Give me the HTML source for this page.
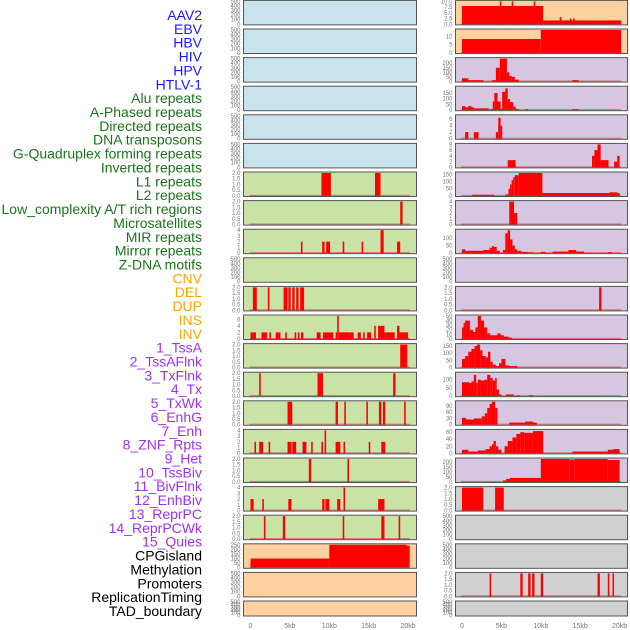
<!DOCTYPE html>
<html><head><meta charset="utf-8"><style>
html,body{margin:0;padding:0;background:#fff;}
svg{display:block;font-family:"Liberation Sans",sans-serif;}
</style></head><body>
<svg id="chart" width="630" height="630" viewBox="0 0 630 630" xmlns="http://www.w3.org/2000/svg"></svg>
<script>
const labels = ["AAV2","EBV","HBV","HIV","HPV","HTLV-1","Alu repeats","A-Phased repeats","Directed repeats","DNA transposons","G-Quadruplex forming repeats","Inverted repeats","L1 repeats","L2 repeats","Low_complexity A/T rich regions","Microsatellites","MIR repeats","Mirror repeats","Z-DNA motifs","CNV","DEL","DUP","INS","INV","1_TssA","2_TssAFlnk","3_TxFlnk","4_Tx","5_TxWk","6_EnhG","7_Enh","8_ZNF_Rpts","9_Het","10_TssBiv","11_BivFlnk","12_EnhBiv","13_ReprPC","14_ReprPCWk","15_Quies","CPGisland","Methylation","Promoters","ReplicationTiming","TAD_boundary"];
const labelColors = ["#1a1aff","#1a1aff","#1a1aff","#1a1aff","#1a1aff","#1a1aff","#1a741a","#1a741a","#1a741a","#1a741a","#1a741a","#1a741a","#1a741a","#1a741a","#1a741a","#1a741a","#1a741a","#1a741a","#1a741a","#ffa500","#ffa500","#ffa500","#ffa500","#ffa500","#a030f0","#a030f0","#a030f0","#a030f0","#a030f0","#a030f0","#a030f0","#a030f0","#a030f0","#a030f0","#a030f0","#a030f0","#a030f0","#a030f0","#a030f0","#000","#000","#000","#000","#000"];
const xTickValues = [0,5,10,15,20];
const xTickLabels = ["0","5kb","10kb","15kb","20kb"];
const T500 = ["0","100","200","300","400","500"];
const T2 = ["0.0","0.5","1.0","1.5","2.0"];
const T4 = ["0","1","2","3","4"];
// left column: ymax, ticks, bars [startKb,endKb,value]
const leftYMax = [500,500,500,500,500,500,2,2,4,500,2,7,2,2,2,4,2,4,2,250,500,500];
const leftTicks = [T500,T500,T500,T500,T500,T500,T2,T2,T4,T500,T2,["0","2","4","6"],T2,T2,T2,T4,T2,T4,T2,["0","50","100","150","200","250"],T500,T500];
const leftBars = [
 [],[],[],[],[],[],
 [[9.0,10.2,2],[15.8,16.5,2]],
 [[19.0,19.3,2]],
 [[6.4,6.6,2],[9.1,9.4,2],[9.6,10.1,2],[11.7,11.9,2],[14.1,14.3,2],[16.5,16.9,4],[18.6,19.0,2]],
 [],
 [[0.3,0.8,2],[2.2,2.4,2],[4.2,4.7,2],[4.8,5.1,2],[5.3,5.6,2],[5.8,6.1,2],[6.3,6.8,2]],
 [[0,0.7,2],[1.4,2.1,2],[2.4,2.6,2],[3.2,3.8,2],[4.4,4.6,2],[5.6,5.8,2],[6.0,6.2,2],[6.4,6.7,2],[8.4,8.9,2],[9.2,10.5,2],[10.8,11.0,2],[11.0,11.2,7],[11.2,12.6,2],[12.6,13.1,2],[13.6,14.0,2],[14.3,14.5,2],[14.8,15.3,2],[15.7,15.9,4],[16.2,16.5,4],[16.5,17.0,4],[17.0,17.3,2],[17.3,18.3,2],[18.6,18.9,4],[18.9,20.0,2]],
 [[19.0,19.9,2]],
 [[1.1,1.3,2],[8.5,9.2,2],[18.1,18.4,2]],
 [[4.7,5.3,2],[10.8,11.1,2],[11.9,12.1,2],[14.7,14.9,2],[16.3,16.6,2],[16.8,17.1,2],[19.5,19.7,2]],
 [[0.5,0.7,2],[1.1,1.6,2],[2.3,2.5,2],[4.7,5.2,2],[5.3,5.8,2],[6.6,7.1,2],[7.7,7.9,2],[9.0,9.2,2],[9.4,9.6,4],[10.8,11.4,2],[11.8,12.0,2],[15.0,15.2,2],[16.6,17.1,2]],
 [[7.4,7.7,2],[12.3,12.5,2]],
 [[0,0.4,2],[1.5,1.7,2],[4.8,5.2,2],[9.1,9.4,2],[9.5,10.0,2],[11.0,11.4,2],[11.8,12.0,4],[16.2,17.0,2]],
 [[1.7,1.9,2],[4.1,4.4,2],[11.7,11.9,2],[16.6,17.0,2],[18.8,19.0,2]],
 [[0,10.0,100],[10.0,19.8,250],[19.8,20.2,240]],
 [],[]
];
const rightYMax = [10,14,250,200,7,8,160,4,150,500,2,50,160,140,110,65,230,2,500,500,2,500];
const rightTicks = [["0.0","2.5","5.0","7.5","10.0"],["0","5","10"],["0","50","100","150","200"],["0","50","100","150"],["0","2","4","6"],["0","2","4","6","8"],["0","50","100","150"],T4,["0","50","100"],T500,T2,["0","10","20","30","40","50"],["0","50","100","150"],["0","50","100"],["0","30","60","90"],["0","20","40","60"],["0","50","100","150","200"],T2,T500,T500,T2,T500];
const rightBars = [
 [[0,10.3,8],[10.3,20.2,1.7],[4.8,5.0,10],[6.3,6.5,10],[9.1,9.3,10],[12.4,12.6,3.2],[13.7,13.9,2.5],[14.1,14.3,2.5]],
 [[0,10,8.5],[10,20.2,14]],
 [[0,0.8,35],[0.8,2.7,15],[3.8,4.3,15],[4.3,4.8,150],[4.8,5.7,250],[5.7,6.0,100],[6.0,6.3,60],[6.3,6.7,50],[6.7,7.2,20],[14,14.8,15]],
 [[0,0.4,35],[0.4,0.8,25],[0.8,1.2,35],[1.2,1.5,25],[1.5,3.4,15],[3.6,3.9,10],[3.9,4.1,75],[4.1,4.5,150],[4.5,4.9,75],[4.9,5.1,10],[5.1,5.5,160],[5.5,5.8,190],[5.8,6.1,95],[6.1,6.5,70],[6.5,6.8,30],[6.8,7.2,10],[8.0,8.4,8],[14,14.8,8]],
 [[0.4,0.8,2],[1.5,2.1,2],[4.3,4.6,2],[4.6,4.9,6.4],[4.9,5.1,4]],
 [[5.8,6.8,2.5],[16.5,16.8,4],[16.8,17.2,6],[17.2,17.6,8],[17.6,18.6,2.5],[19.3,19.7,2],[19.7,20,4]],
 [[1.3,4.1,8],[5.5,5.9,10],[5.9,6.1,50],[6.1,6.3,80],[6.3,6.5,110],[6.5,6.7,130],[6.7,7.2,145],[7.2,10.2,160],[10.2,18.7,20],[18.7,19.7,25],[19.7,20,20]],
 [[6.0,6.6,4],[6.6,7.0,2]],
 [[0,0.4,25],[0.4,2.7,15],[2.7,3.5,20],[3.5,3.8,35],[3.8,4.1,45],[4.1,4.4,40],[4.4,4.8,15],[5.2,5.5,20],[5.5,5.8,130],[5.8,6.1,150],[6.1,6.4,90],[6.4,6.7,50],[6.7,7.0,25],[7.0,7.5,15],[7.5,8.3,8],[8.3,9.0,5],[10.0,10.6,8],[11.5,13.5,10],[13.5,14.5,20],[14.5,15.5,10],[18.5,19.0,6]],
 [],
 [[17.4,17.7,2]],
 [[0,0.2,25],[0.2,0.4,35],[0.4,1.0,40],[1.0,1.4,20],[1.4,1.7,15],[1.7,2.0,25],[2.0,2.4,50],[2.4,2.8,40],[2.8,3.2,25],[3.2,3.6,12],[3.6,4.1,8],[4.1,4.5,8],[4.5,4.9,12],[4.9,5.3,8],[5.3,5.9,5],[5.9,6.3,3]],
 [[0,0.4,60],[0.4,0.8,80],[0.8,1.2,110],[1.2,1.6,130],[1.6,1.9,150],[1.9,2.3,160],[2.3,2.6,120],[2.6,3.0,80],[3.0,3.3,70],[3.3,3.6,110],[3.6,3.9,40],[3.9,4.3,20],[4.3,4.7,10],[4.7,5.0,30],[5.0,5.5,60],[5.5,6.0,15],[6.0,7.0,10]],
 [[0,0.9,85],[0.9,1.2,80],[1.2,1.5,90],[1.5,1.8,130],[1.8,2.0,80],[2.0,2.4,100],[2.4,2.8,95],[2.8,3.2,100],[3.2,3.6,130],[3.6,3.9,110],[3.9,4.2,95],[4.2,4.4,110],[4.4,4.7,40],[4.7,5.0,10],[5.6,6.6,10],[7,7.4,5],[8.5,9.0,5]],
 [[0,0.5,33],[0.5,1.5,25],[1.5,2.5,30],[2.5,2.9,40],[2.9,3.2,55],[3.2,3.5,80],[3.5,3.8,100],[3.8,4.2,110],[4.2,4.5,80],[6,8,10],[8,9,15],[9,9.5,10]],
 [[0,0.8,10],[0.8,2.0,5],[2.0,3.0,8],[3.0,3.5,12],[3.5,3.8,20],[3.8,4.0,25],[4.0,4.3,35],[4.3,4.6,20],[4.6,5.0,10],[5.4,5.8,20],[5.8,6.4,35],[6.4,6.9,45],[6.9,7.4,55],[7.4,7.9,60],[7.9,9.0,58],[9.0,10.3,63],[14,18.5,5],[18.5,19.2,10],[19.2,20,12]],
 [[5.2,5.6,15],[5.6,6.1,30],[6.1,10.0,40],[10.0,13.6,230],[13.6,14.3,225],[14.3,18.5,230],[18.5,20,220]],
 [[0,2.7,2],[4.2,5.3,2]],
 [],[],
 [[3.5,3.7,2],[7.4,7.7,2],[8.4,8.7,2],[8.9,9.2,2],[10.0,10.3,2],[17.2,17.5,2],[18.5,18.7,2],[19.1,19.3,2]],
 []
];
const leftBg = ["#c8e3ec","#c8e3ec","#c8e3ec","#c8e3ec","#c8e3ec","#c8e3ec","#c9e2a6","#c9e2a6","#c9e2a6","#c9e2a6","#c9e2a6","#c9e2a6","#c9e2a6","#c9e2a6","#c9e2a6","#c9e2a6","#c9e2a6","#c9e2a6","#c9e2a6","#ffd0a0","#ffd0a0","#ffd0a0"];
const rightBg = ["#ffd0a0","#ffd0a0","#d6c6e2","#d6c6e2","#d6c6e2","#d6c6e2","#d6c6e2","#d6c6e2","#d6c6e2","#d6c6e2","#d6c6e2","#d6c6e2","#d6c6e2","#d6c6e2","#d6c6e2","#d6c6e2","#d6c6e2","#d0d0d0","#d0d0d0","#d0d0d0","#d0d0d0","#d0d0d0"];

const NS = "http://www.w3.org/2000/svg";
const svg = document.getElementById('chart');
function mk(tag, attrs, parent){ const e=document.createElementNS(NS,tag); for(const k in attrs) e.setAttribute(k,attrs[k]); (parent||svg).appendChild(e); return e; }

labels.forEach((t,i)=>{
  const e = mk('text',{x:202,y:20+i*13.86,'text-anchor':'end','font-size':'14',fill:labelColors[i]});
  e.textContent=t;
  
  
});

function rowTop(i){ return 0.4+i*28.6; }
function rowH(i){ return i===21?15:24.5; }

function drawCol(x0, x1, kb0x, kbScale, bgs, ymaxes, ticks, bars, colName){
  const g = mk('g',{});
  
  
  const xs = kb => kb0x + kb*kbScale;
  for(let i=0;i<22;i++){
    const top=rowTop(i), h=rowH(i), bot=top+h;
    const panel = mk('g',{},g);
    
    
    mk('rect',{x:x0,y:top,width:x1-x0,height:h,fill:bgs[i]},panel);
    const ys = v => (bot-0.6) - v/ymaxes[i]*(h-1.6);
    const tk = ticks[i];
    const n = tk.length;
    tk.forEach((lab,j)=>{
      const v = parseFloat(lab);
      const t = mk('text',{x:x0-3,y:ys(v)+2,'text-anchor':'end','font-size':'6',fill:'#777'},panel);
      t.textContent=lab;
      
      
    });
    if(bars[i].length){
      mk('rect',{x:xs(0)-1,y:bot-1.6,width:xs(20.2)-xs(0)+1,height:1.1,fill:'#c86060',opacity:0.8},panel);
    }
    bars[i].forEach(b=>{
      const r = mk('rect',{x:xs(b[0]),y:ys(b[2]),width:Math.max(1.2,xs(b[1])-xs(b[0])),height:(bot-0.6)-ys(b[2]),fill:'#ff0000'},panel);
      
      
    });
    mk('rect',{x:x0,y:top,width:x1-x0,height:h,fill:'none',stroke:'#555',"stroke-width":1},panel);
  }
  xTickValues.forEach((v,j)=>{
    const t = mk('text',{x:xs(v),y:628,'text-anchor':'middle','font-size':'7',fill:'#777'},g);
    t.textContent = xTickLabels[j];
    
    
  });
}
drawCol(243.5,416.5,250.5,7.88,leftBg,leftYMax,leftTicks,leftBars,'left-track-column');
drawCol(455.5,627.5,462,7.88,rightBg,rightYMax,rightTicks,rightBars,'right-track-column');
</script>
</body></html>
